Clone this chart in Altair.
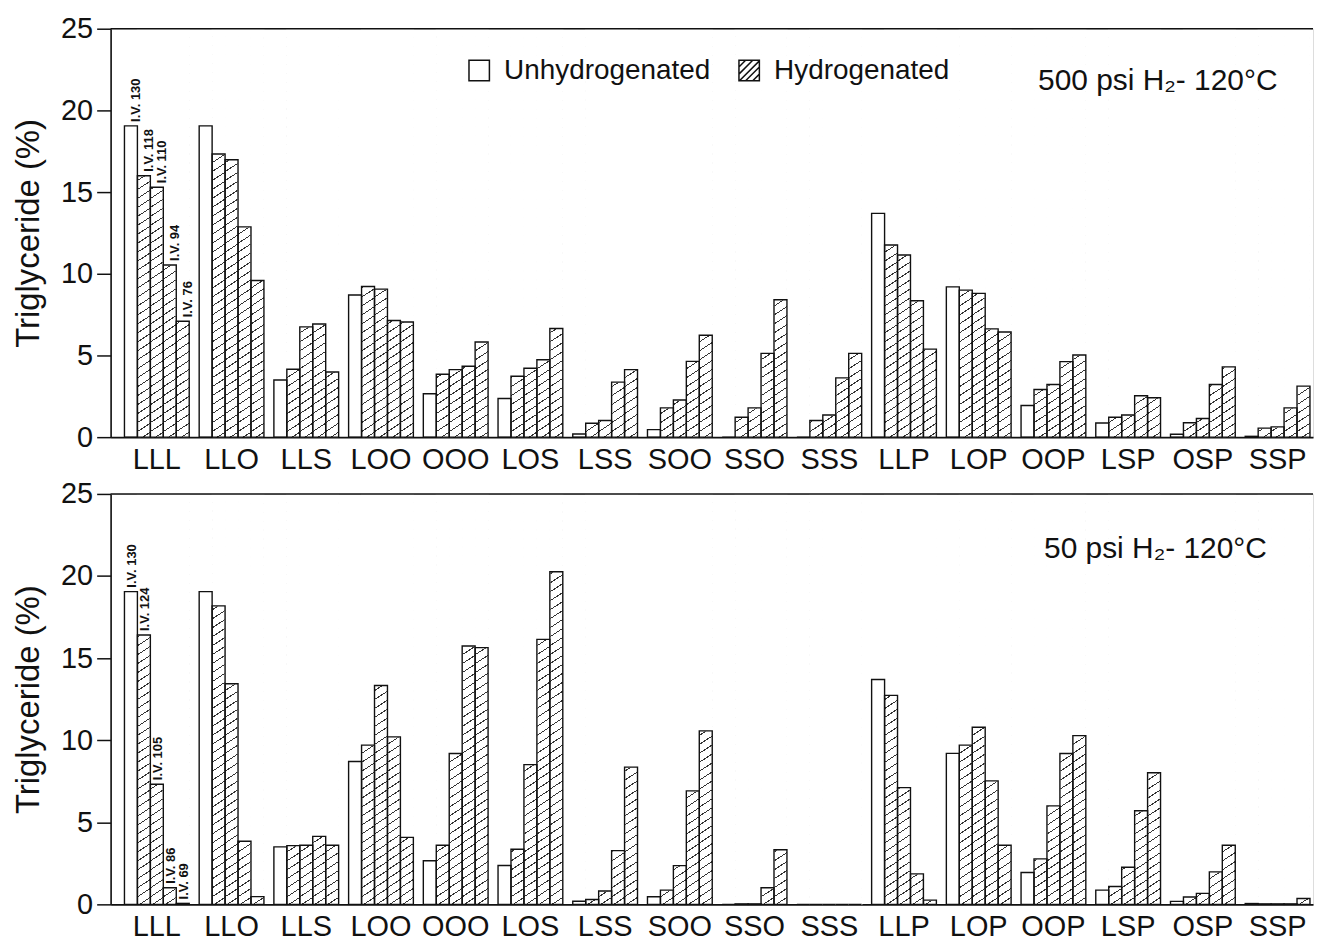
import altair as alt
import pandas as pd

# ---------------- data ----------------
categories = ["LLL", "LLO", "LLS", "LOO", "OOO", "LOS", "LSS", "SOO",
              "SSO", "SSS", "LLP", "LOP", "OOP", "LSP", "OSP", "SSP"]

# unhydrogenated oil (same in both panels)
unhydrogenated = [19.05, 19.05, 3.5, 8.7, 2.66, 2.37, 0.19, 0.46, 0.0, 0.0,
                  13.7, 9.2, 1.94, 0.87, 0.18, 0.05]

# 500 psi H2 - 120 C
top_labels = ["I.V. 130", "I.V. 118", "I.V. 110", "I.V. 94", "I.V. 76"]
top_iv118 = [16.0, 17.33, 4.16, 9.22, 3.85, 3.73, 0.85, 1.79, 1.22, 1.02,
             11.76, 9.0, 2.92, 1.22, 0.88, 0.55]
top_iv110 = [15.3, 16.98, 6.75, 9.06, 4.13, 4.22, 1.02, 2.27, 1.79, 1.36,
             11.15, 8.8, 3.22, 1.36, 1.14, 0.63]
top_iv94 = [10.54, 12.87, 6.93, 7.14, 4.34, 4.74, 3.37, 4.64, 5.13, 3.63,
            8.35, 6.63, 4.62, 2.53, 3.22, 1.79]
top_iv76 = [7.09, 9.59, 3.99, 7.05, 5.82, 6.65, 4.13, 6.24, 8.41, 5.13,
            5.39, 6.44, 5.03, 2.41, 4.3, 3.12]

# 50 psi H2 - 120 C
bottom_labels = ["I.V. 130", "I.V. 124", "I.V. 105", "I.V. 86", "I.V. 69"]
bot_iv124 = [16.41, 18.18, 3.58, 9.7, 3.6, 3.36, 0.3, 0.87, 0.03, 0.0,
             12.73, 9.7, 2.77, 1.09, 0.45, 0.03]
bot_iv105 = [7.32, 13.44, 3.6, 13.33, 9.19, 8.51, 0.81, 2.36, 0.03, 0.0,
             7.11, 10.79, 6.0, 2.26, 0.67, 0.03]
bot_iv86 = [1.01, 3.84, 4.14, 10.2, 15.74, 16.14, 3.27, 6.91, 1.01, 0.0,
            1.86, 7.52, 9.19, 5.7, 1.98, 0.03]
bot_iv69 = [0.06, 0.47, 3.6, 4.08, 15.64, 20.26, 8.36, 10.57, 3.33, 0.0,
            0.26, 3.6, 10.28, 8.02, 3.6, 0.36]

y_ticks = [0, 5, 10, 15, 20, 25]
legend_names = ["Unhydrogenated", "Hydrogenated"]
conditions = {"top": "500 psi H\u2082- 120\u00b0C", "bottom": "50 psi H\u2082- 120\u00b0C"}

# ---------------- table ----------------
rows = []
for panel, labels, series in [
    ("top", top_labels, [unhydrogenated, top_iv118, top_iv110, top_iv94, top_iv76]),
    ("bottom", bottom_labels, [unhydrogenated, bot_iv124, bot_iv105, bot_iv86, bot_iv69]),
]:
    for i, (lab, vals) in enumerate(zip(labels, series)):
        for c, v in zip(categories, vals):
            rows.append({"panel": panel, "cat": c, "idx": i, "iv": lab,
                         "value": v, "hyd": i > 0, "top": 25})
df = pd.DataFrame(rows)

FONT = "Liberation Sans"
INK = "#111111"
PLOT_W = 1207
BAR_W = 13


def hatch_gradient(h, slope=0.65, period_px=9.0, line_px=1.15):
    a = slope * BAR_W / h
    L = (1 + a) / (1 + a * a)
    period = period_px / (h * (1 + a))
    line = line_px / (h * (1 + a))
    stops = []
    t = 0.0
    while t < 1.0:
        t1 = min(1.0, t + period - line)
        t2 = min(1.0, t + period)
        stops += [alt.GradientStop(color="white", offset=round(t, 5)),
                  alt.GradientStop(color="white", offset=round(t1, 5)),
                  alt.GradientStop(color="#333333", offset=round(t1, 5)),
                  alt.GradientStop(color="#333333", offset=round(t2, 5))]
        t += period
    return alt.LinearGradient(gradient="linear", stops=stops,
                              x1=0, y1=0, x2=round(a * L, 6), y2=round(L, 6))


def panel_chart(panel, height, cond_x, cond_y, ann_dy, with_legend):
    d = df[df["panel"] == panel]
    xenc = alt.X("cat:N", sort=categories,
                 scale=alt.Scale(paddingInner=0.1333, paddingOuter=0.113, align=0.82),
                 axis=alt.Axis(title=None, ticks=False, labelAngle=0, labelFontSize=29,
                               labelPadding=8, labelColor=INK, labelFont=FONT,
                               domainColor=INK, domainWidth=1.6))
    xoff = alt.XOffset("idx:O", scale=alt.Scale(paddingInner=0, paddingOuter=0))
    yscale = alt.Scale(domain=[0, 25], nice=False, zero=True)
    yaxis = alt.Axis(values=y_ticks, grid=False, tickSize=14, tickWidth=1.5,
                     tickColor=INK, domainColor=INK, domainWidth=1.6,
                     labelFontSize=29, labelColor=INK, labelFont=FONT, labelPadding=4,
                     titleFontSize=33, titleFont=FONT, titleColor=INK,
                     titleFontWeight="normal", titlePadding=15)
    ytitle = "Triglyceride (%)"

    hyd = alt.Chart(d[d["hyd"]])
    hatch = hyd.mark_bar(fill=hatch_gradient(height), strokeWidth=0).encode(
        x=xenc, xOffset=xoff,
        y=alt.Y("top:Q", scale=yscale, axis=yaxis, title=ytitle),
        y2=alt.datum(0))
    mask = hyd.mark_bar(fill="white", stroke="white", strokeWidth=1.2).encode(
        x=xenc, xOffset=xoff,
        y=alt.Y("value:Q", scale=yscale, axis=yaxis, title=ytitle),
        y2="top:Q")
    outline = alt.Chart(d).mark_bar(fill="white", fillOpacity=0, stroke=INK,
                                    strokeWidth=1.4).encode(
        x=xenc, xOffset=xoff,
        y=alt.Y("value:Q", scale=yscale, axis=yaxis, title=ytitle))
    top_rule = alt.Chart(pd.DataFrame({"y": [25]})).mark_rule(
        color=INK, strokeWidth=1.6).encode(
        y=alt.Y("y:Q", scale=yscale, axis=yaxis, title=ytitle))
    ann = alt.Chart(d[d["cat"] == "LLL"]).mark_text(
        angle=270, align="left", baseline="middle", dx=4, dy=ann_dy,
        fontSize=13, fontWeight="bold", font=FONT, color=INK).encode(
        x=xenc, xOffset=xoff,
        y=alt.Y("value:Q", scale=yscale, axis=yaxis, title=ytitle),
        text="iv:N")
    cond = alt.Chart(pd.DataFrame({"t": [conditions[panel]]})).mark_text(
        align="left", baseline="alphabetic", fontSize=30, font=FONT, color=INK).encode(
        x=alt.value(cond_x), y=alt.value(cond_y), text="t:N")

    layers = [hatch, mask, outline, top_rule, ann, cond]
    if with_legend:
        leg = alt.Chart(pd.DataFrame({"type": legend_names})).transform_filter(
            "false").mark_point(fill="white", stroke=INK, strokeWidth=1.2,
                                opacity=1, fillOpacity=1).encode(
            shape=alt.Shape("type:N",
                            scale=alt.Scale(domain=legend_names,
                                            range=["M-1,-1H1V1H-1Z",
                                                   "M-1,-1H1V1H-1Z M-1,-0.35L-0.35,-1 M-1,0.35L0.35,-1 M-0.95,1L1,-0.95 M-0.35,1L1,-0.35 M0.35,1L1,0.35"]),
                            legend=alt.Legend(title=None, orient="none", legendX=356,
                                              legendY=28, direction="horizontal",
                                              symbolSize=420, labelFontSize=28,
                                              labelFont=FONT, labelColor=INK,
                                              labelOffset=11, columnPadding=24,
                                              labelLimit=500, padding=0)))
        layers.append(leg)
    return alt.layer(*layers).properties(width=PLOT_W, height=height)


top = panel_chart("top", 410, 931, 62, 5, True)
bottom = panel_chart("bottom", 412, 937, 64, 1.5, False)

chart = alt.vconcat(top, bottom, spacing=4).resolve_scale(
    x="independent", y="independent"
).properties(
    padding={"left": 4, "top": 4, "right": 0, "bottom": 0},
    background="white",
).configure_view(stroke=None).configure(font=FONT)

chart.save("out.html", embed_options={"renderer": "svg", "actions": False})
